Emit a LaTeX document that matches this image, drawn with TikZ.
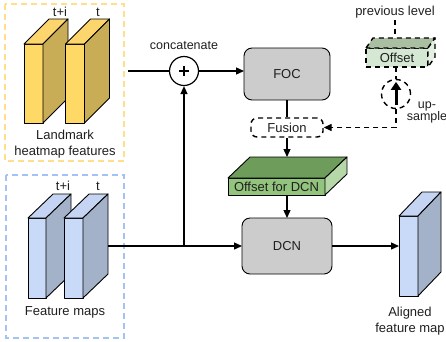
\documentclass[tikz,border=0pt]{standalone}
\usepackage{fontspec}
\setmainfont{Liberation Sans}
\usetikzlibrary{arrows.meta,calc}

\definecolor{ylwfront}{RGB}{255,217,102}
\definecolor{ylwtop}{RGB}{252,214,108}
\definecolor{ylwside}{RGB}{201,173,86}
\definecolor{bluefront}{RGB}{201,218,248}
\definecolor{bluetop}{RGB}{196,212,242}
\definecolor{blueside}{RGB}{163,178,201}
\definecolor{grnfront}{RGB}{147,196,125}
\definecolor{grntop}{RGB}{110,156,90}
\definecolor{grnside}{RGB}{182,215,168}
\definecolor{offfront}{RGB}{213,232,212}
\definecolor{offtop}{RGB}{170,190,162}
\definecolor{offside}{RGB}{228,240,226}
\definecolor{procgray}{RGB}{204,204,204}
\definecolor{ylwframe}{RGB}{255,222,140}
\definecolor{blueframe}{RGB}{164,194,244}

% top and side faces of a box whose front face is the node #1
% #2,#3: depth to the right and upwards; #4,#5: top and side fill; #6: extra line options
\newcommand\boxback[6]{%
  \filldraw[face,fill=#4,#6] (#1.north west) -- ($(#1.north west)+(#2,-#3)$)
    -- ($(#1.north east)+(#2,-#3)$) -- (#1.north east) -- cycle;
  \filldraw[face,fill=#5,#6] (#1.north east) -- ($(#1.north east)+(#2,-#3)$)
    -- ($(#1.south east)+(#2,-#3)$) -- (#1.south east) -- cycle;}

\begin{document}
\begin{tikzpicture}[x=1pt,y=-1pt,
  lbl/.style={font=\fontsize{13}{16}\selectfont, text=black!88, align=center, inner sep=0},
  face/.style={draw=black, line width=0.9pt, inner sep=0, outer sep=0, line join=round},
  conn/.style={line width=1.3pt},
  arr/.style={conn, -{Triangle[length=8pt,width=7pt]}},
  dashln/.style={line width=1.4pt, dash pattern=on 5pt off 4pt},
  roundbox/.style={draw, fill=procgray, rounded corners=8pt, line width=0.9pt, inner sep=0, outer sep=0},
  grouping/.style={line width=1.2pt, dash pattern=on 6pt off 4pt}
]
\useasboundingbox (0,0) rectangle (446,341);

% grouping frames
\draw[grouping, ylwframe] (5,4) rectangle (124,161);
\draw[grouping, blueframe] (6,175) rectangle (124,338);

% landmark heatmap features
\node[face, fill=ylwfront, minimum width=19pt, minimum height=79pt] (lmA) at (33.5,83.5) {};
\boxback{lmA}{25}{25}{ylwtop}{ylwside}{}
\node[face, fill=ylwfront, minimum width=19pt, minimum height=79pt] (lmB) at (75,83.5) {};
\boxback{lmB}{25}{25}{ylwtop}{ylwside}{}
\node[lbl] (lmAt) at (60,12) {t+i};
\node[lbl] (lmBt) at (98,12) {t};
\node[lbl] (lmtxt) at (65,144) {Landmark\\heatmap features};

% feature maps
\node[face, fill=bluefront, minimum width=18pt, minimum height=80pt] (fmA) at (37,258) {};
\boxback{fmA}{25}{24}{bluetop}{blueside}{}
\node[face, fill=bluefront, minimum width=19pt, minimum height=80pt] (fmB) at (73.5,258) {};
\boxback{fmB}{25}{24}{bluetop}{blueside}{}
\node[lbl] (fmAt) at (63,186) {t+i};
\node[lbl] (fmBt) at (98,186) {t};
\node[lbl] (fmtxt) at (65,312) {Feature maps};

% concatenation
\node[lbl, font=\fontsize{12.5}{15}\selectfont] (cattxt) at (184,46) {concatenate};
\node[draw, circle, line width=1.2pt, minimum size=29pt, inner sep=0, fill=white] (cat) at (184,71) {};
\draw[line width=1.3pt] ($(cat.center)+(-5,0)$) -- ($(cat.center)+(5,0)$)
  ($(cat.center)+(0,-5)$) -- ($(cat.center)+(0,5)$);

% processing blocks
\node[roundbox, minimum width=86pt, minimum height=52pt, lbl] (foc) at (287,74) {FOC};
\node[lbl, draw, dashln, rounded corners=6pt, minimum width=72pt, minimum height=19pt, fill=white] (fusion) at (287,127.5) {Fusion};

% offset for DCN
\node[face, fill=grnfront, minimum width=97pt, minimum height=17pt, lbl] (ofs) at (276.5,186.5) {Offset for DCN};
\boxback{ofs}{22}{21}{grntop}{grnside}{}
\coordinate (ofstop) at ($(ofs.north)+(0,-21)$);

\node[roundbox, minimum width=90pt, minimum height=56pt, lbl] (dcn) at (287,246) {DCN};

% aligned output
\node[face, fill=bluefront, minimum width=19pt, minimum height=80pt] (alg) at (408.5,256) {};
\boxback{alg}{23}{24}{bluetop}{blueside}{}
\node[lbl] (algtxt) at (410,321.5) {Aligned\\feature map};

% offset from the previous level
\node[lbl] (prev) at (395,12) {previous level};
\node[face, dashln, fill=offfront, minimum width=62pt, minimum height=19pt, lbl] (off) at (397,57.5) {Offset};
\boxback{off}{7}{10}{offtop}{offside}{dashln}
\coordinate (offback) at ($(off.north)+(0,-10)$);
\node[draw, circle, dashln, minimum size=29pt, inner sep=0] (up) at (396,94) {};
\draw[line width=3pt, -{Triangle[length=8pt,width=10pt]}] ($(up.south)+(0,-4)$) -- ($(up.north)+(0,3)$);
\node[lbl, font=\fontsize{12.5}{12}\selectfont] (uptxt) at (427,112) {up-\\sample};
\coordinate (bend) at (396,127.5);

% connectors
\draw[conn] (128,71) -- (cat.west);
\draw[arr] (cat.east) -- (cat.east -| foc.west);
\coordinate (split) at (184,246);
\draw[arr] (108,246) -- (dcn.west);
\draw[arr] (split) -- (cat.south);
\draw[conn] (foc.south) -- (fusion.north);
\draw[arr] (fusion.south) -- (fusion.south |- ofstop);
\draw[arr] (dcn.north |- ofs.south) -- (dcn.north);
\draw[arr] (dcn.east) -- (dcn.east -| alg.west);
\draw[dashln] (prev.south |- 0,20) -- (prev.south |- offback);
\draw[dashln] (up.north |- off.south) -- (up.north);
\draw[dashln, -{Triangle[length=8pt,width=7pt]}] (up.south) -- (bend) -- (fusion.east);
\end{tikzpicture}
\end{document}
